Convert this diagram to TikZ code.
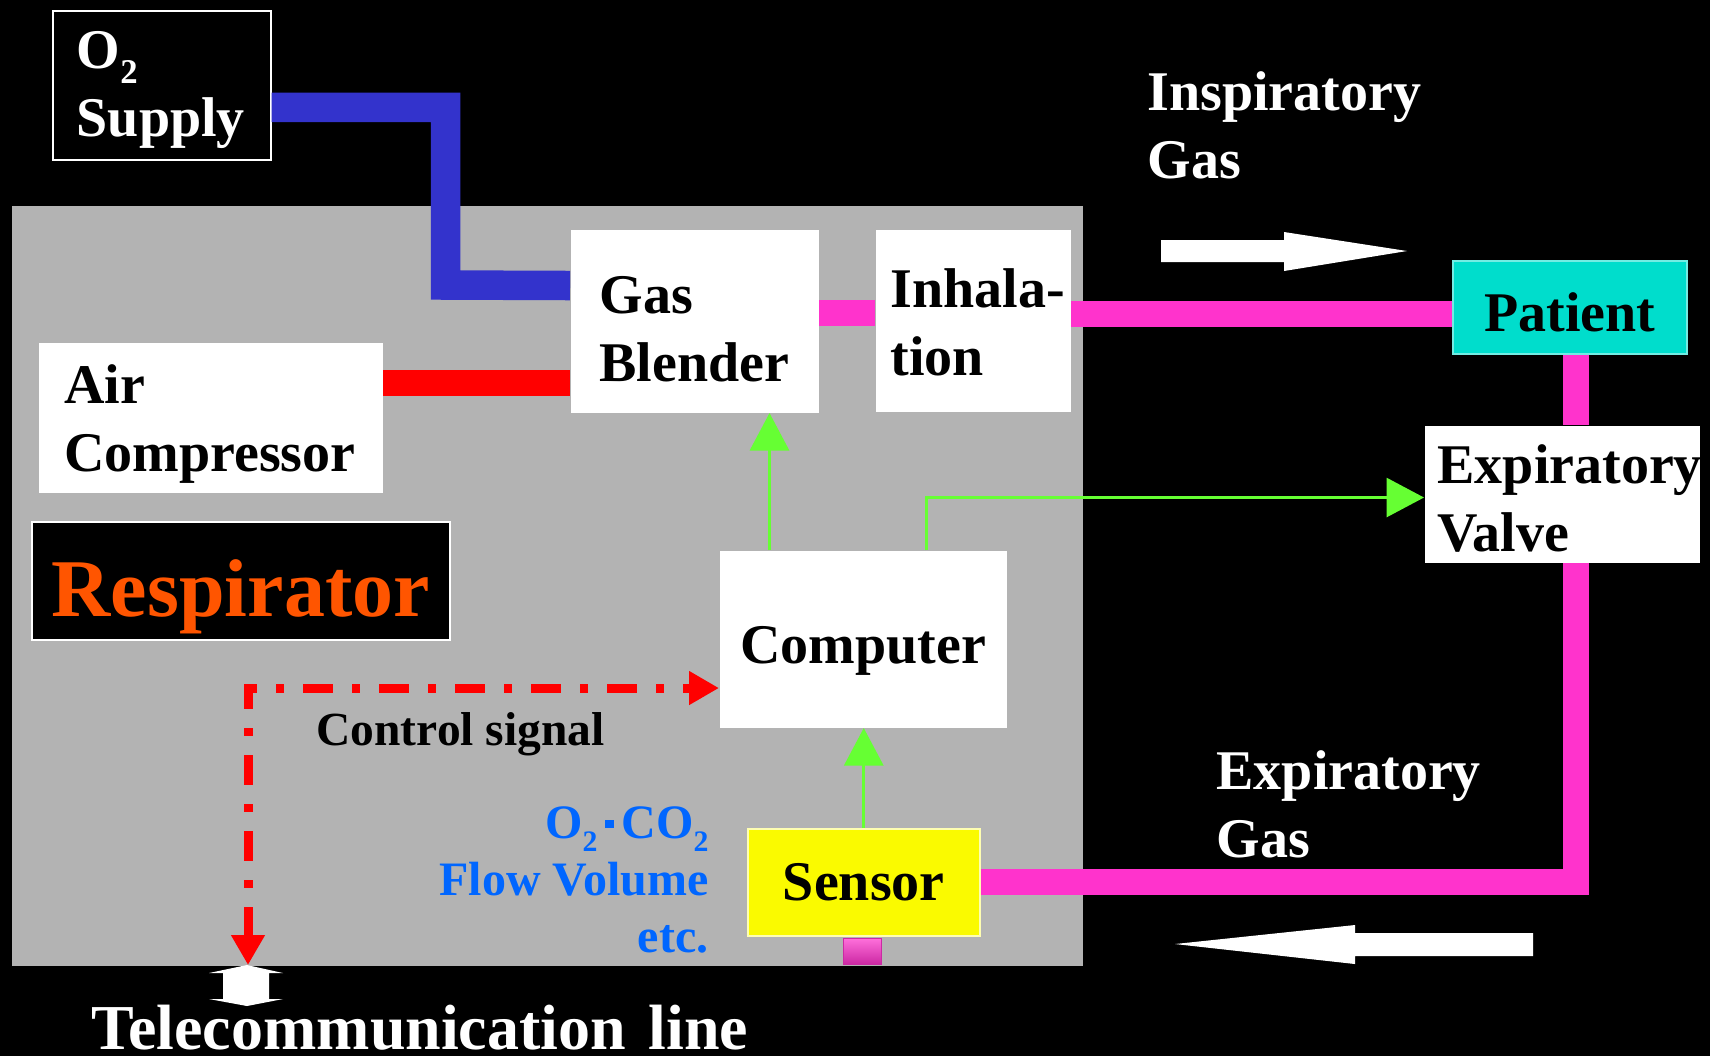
\documentclass[tikz,border=0pt]{standalone}
\usepackage{fontspec}
\setmainfont{Liberation Serif}
\usepackage{tikz}
\usetikzlibrary{arrows.meta}
\definecolor{pipeblue}{RGB}{51,51,204}
\definecolor{pipered}{RGB}{255,0,0}
\definecolor{pipepink}{RGB}{255,51,204}
\definecolor{siggreen}{RGB}{102,255,51}
\definecolor{casegray}{RGB}{179,179,179}
\definecolor{patcyan}{RGB}{0,221,204}
\definecolor{sensyellow}{RGB}{250,250,0}
\definecolor{resporange}{RGB}{255,85,0}
\definecolor{datablue}{RGB}{0,102,255}
\newcommand{\subtwo}{\raisebox{-0.27em}{\scalebox{0.62}{2}}}
\newcommand{\sqdot}{\,\raisebox{0.22em}{\rule{0.17em}{0.17em}}\,}
\newcommand{\lift}[1]{\rule{0pt}{#1}}
\hyphenpenalty=10000
\exhyphenpenalty=10000

\begin{document}
\begin{tikzpicture}[x=0.4pt, y=-0.4pt,
    unit/.style={fill=white, anchor=north west, inner ysep=0pt, align=left, font=\bfseries\fontsize{22.4}{27.2}\selectfont},
    note/.style={text=white, inner sep=0pt, align=left, font=\bfseries\fontsize{22.4}{27.2}\selectfont},
    bluepipe/.style={draw=pipeblue, line width=11.8pt},
    redpipe/.style={draw=pipered, line width=10.4pt},
    pinkpipe/.style={draw=pipepink, line width=10.4pt},
    flow/.style={draw=siggreen, line width=1.2pt, -{Triangle[length=15pt,width=15.6pt]}},
    ctrl/.style={draw=pipered, line width=3.6pt, dash pattern=on 12pt off 7.6pt on 3.2pt off 7.6pt, {Triangle[length=12pt,width=12.8pt]}-{Triangle[length=12pt,width=12.8pt]}}]
  \fill[black] (0,0) rectangle (1710,1056);
  \useasboundingbox (0,0) rectangle (1710,1056);
  \fill[casegray] (12,206) rectangle (1083,966);
  \node[unit, fill=black, draw=white, line width=0.6pt, text=white, minimum width=87.2pt, minimum height=59.6pt, inner xsep=9.6pt, text width=68pt] (o2) at (52,10) {\lift{18.9pt}O\subtwo\\Supply};
  \node[unit, minimum width=99.2pt, minimum height=73.2pt, inner xsep=11.6pt, text width=76pt] (gas) at (570,229) {\lift{21.5pt}Gas\\Blender};
  \node[unit, minimum width=78pt, minimum height=72.8pt, inner xsep=6pt, text width=66pt] (inhal) at (875,229) {\lift{16.8pt}\mbox{Inhala-}\\tion};
  \node[unit, fill=patcyan, draw=white!45!patcyan, line width=0.6pt, align=center, minimum width=93.6pt, minimum height=37.2pt] (patient) at (1452,260) {\lift{19.6pt}Patient};
  \node[unit, minimum width=110pt, minimum height=54.8pt, inner xsep=5.2pt, text width=99.6pt] (valve) at (1424,425) {\lift{18.8pt}Expiratory\\Valve};
  \node[unit, minimum width=137.6pt, minimum height=60pt, inner xsep=10.3pt, text width=117pt] (air) at (38,342) {\lift{20.4pt}Air\\Compressor};
  \node[unit, fill=black, draw=white, line width=0.6pt, text=resporange, font=\bfseries\fontsize{32.8}{36}\selectfont, minimum width=167.2pt, minimum height=47.2pt, inner xsep=8pt, text width=151.2pt, text height=28.8pt, text depth=0pt] (resp) at (31,521) {Respirator};
  \node[unit, align=center, minimum width=114.8pt, minimum height=70.8pt] (comp) at (719,550) {\lift{24pt}Computer};
  \node[unit, fill=sensyellow, draw=white!70!sensyellow, line width=0.6pt, align=center, minimum width=92.8pt, minimum height=42.8pt] (sensor) at (747,828) {Sensor};
  \node[minimum width=15.2pt, minimum height=10.4pt, inner sep=0pt, top color=pipepink!70!white, bottom color=pipepink!80!black, draw=pipepink!80!black, line width=0.4pt] (port) at (862,951) {};
  \coordinate (blueBend) at (445.5,285);
  \draw[bluepipe] ([yshift=-8.8pt]o2.east) -| (blueBend) -- ([yshift=14.2pt]gas.west);
  \draw[redpipe] ([yshift=14pt]air.east) -- ([yshift=14pt]air.east -| gas.west);
  \draw[pinkpipe] ([yshift=3.4pt]gas.east) -- ([yshift=3.4pt]gas.east -| inhal.west);
  \draw[pinkpipe] ([yshift=2.6pt]inhal.east) -- ([yshift=2.6pt]inhal.east -| patient.west);
  \draw[pinkpipe] ([xshift=2.6pt]patient.south) -- ([xshift=2.6pt]patient.south |- valve.north);
  \draw[pinkpipe] ([xshift=5.6pt]valve.south) |- (sensor.east);
  \draw[flow] ([xshift=-37.4pt]comp.north) -- ([xshift=-37.4pt]comp.north |- gas.south);
  \draw[flow] ([xshift=25.4pt]comp.north) |- ([yshift=-1.4pt]valve.west);
  \draw[flow] (sensor.north) -- (sensor.north |- comp.south);
  \coordinate (linkTop) at (248,965);
  \draw[ctrl] (linkTop) |- ([yshift=-19.6pt]comp.west);
  \fill[white] (247,965) -- (283,973) -- (269,973) -- (269,999) -- (283,999) -- (247,1006) -- (209,999) -- (223,999) -- (223,973) -- (209,973) -- cycle;
  \fill[white] (1161,240) -- (1284,240) -- (1284,232) -- (1407,251) -- (1284,271) -- (1284,262) -- (1161,262) -- cycle;
  \fill[white] (1533,933) -- (1355,933) -- (1355,925) -- (1175,944) -- (1355,964) -- (1355,956) -- (1533,956) -- cycle;
  \node[note, anchor=west] (insp) at (1147,125.5) {Inspiratory\\Gas};
  \node[note, anchor=west] (expgas) at (1216,804.5) {Expiratory\\Gas};
  \node[note, text=black, anchor=base west, font=\bfseries\fontsize{19}{23}\selectfont] (ctrltext) at (316,745) {Control signal};
  \node[note, text=datablue, align=right, anchor=east, font=\bfseries\fontsize{19.2}{22.8}\selectfont] (data) at (709,880) {O\subtwo\sqdot CO\subtwo\\Flow Volume\\etc.};
  \node[note, anchor=base west, font=\bfseries\fontsize{25.6}{30}\selectfont] (tele) at (91,1049) {Telecommunication\hspace{0.35em}line};
\end{tikzpicture}
\end{document}
